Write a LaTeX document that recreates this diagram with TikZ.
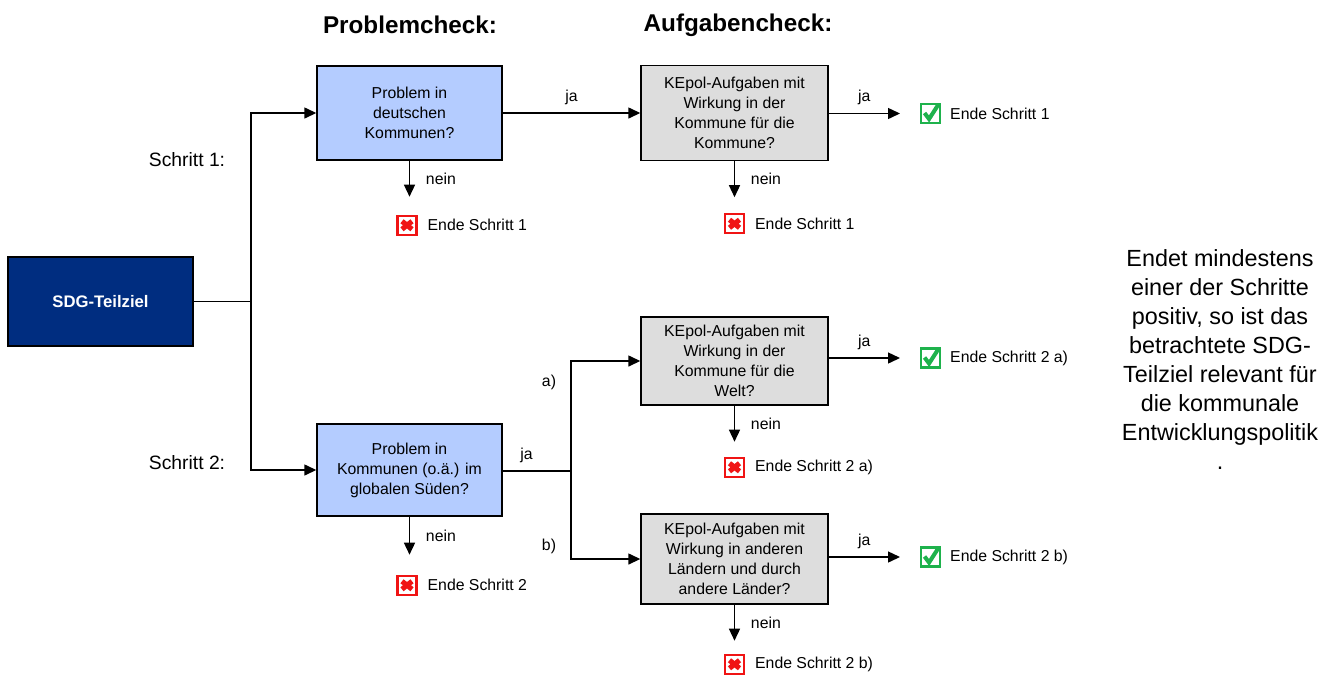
\documentclass[tikz,border=0pt]{standalone}
\usepackage{fontspec}
\setmainfont{Liberation Sans}
\usetikzlibrary{positioning,arrows.meta}
\definecolor{sdgblue}{RGB}{0,45,128}
\definecolor{probblue}{RGB}{180,204,255}
\definecolor{taskgray}{RGB}{221,221,221}
\definecolor{okgreen}{RGB}{30,178,76}
\definecolor{nored}{RGB}{240,20,20}
\tikzset{
  box/.style={draw, line width=0.8pt, minimum width=3.7cm, align=center, inner sep=2pt,
    font=\fontsize{9}{11.4}\selectfont},
  probbox/.style={box, fill=probblue},
  taskbox/.style={box, fill=taskgray, minimum width=3.74cm},
  sdgbox/.style={box, fill=sdgblue, text=white, minimum height=1.78cm,
    font=\fontsize{9.5}{11.4}\selectfont\bfseries},
  wire/.style={line width=0.8pt},
  flow/.style={wire, -{Triangle[length=2.4mm,width=2.2mm]}},
  lbl/.style={font=\fontsize{9}{11}\selectfont, inner sep=1pt},
  head/.style={font=\fontsize{13.8}{16}\selectfont\bfseries},
  steplbl/.style={font=\fontsize{11}{13}\selectfont},
  okmark/.style={draw=okgreen, line width=1.2pt, minimum size=0.38cm, inner sep=0pt,
    path picture={\draw[okgreen, line width=2.3pt, line join=miter]
      ([shift={(-0.12,0.01)}]path picture bounding box.center) --
      ([shift={(-0.03,-0.11)}]path picture bounding box.center) --
      ([shift={(0.17,0.2)}]path picture bounding box.center);}},
  nomark/.style={draw=nored, line width=1.2pt, minimum size=0.38cm, inner sep=0pt, fill=white,
    path picture={\draw[nored, line width=2.9pt]
      ([shift={(-0.1,0.08)}]path picture bounding box.center) --
      ([shift={(0.1,-0.08)}]path picture bounding box.center)
      ([shift={(-0.1,-0.08)}]path picture bounding box.center) --
      ([shift={(0.1,0.08)}]path picture bounding box.center);}},
}
\begin{document}
\begin{tikzpicture}
  \useasboundingbox (0,0) rectangle (26.76,-13.62);

  \node[head] (hprob) at (8.2,-0.5) {Problemcheck:};
  \node[head] (htask) at (14.76,-0.5) {Aufgabencheck:};
  \node[steplbl] (s1) at (3.74,-3.2) {Schritt 1:};
  \node[steplbl] (s2) at (3.74,-9.26) {Schritt 2:};

  \node[sdgbox] (sdg) at (2.01,-6.03) {SDG-Teilziel};
  \node[probbox, minimum height=1.88cm] (p1) at (8.19,-2.26) {Problem in\\deutschen\\Kommunen?};
  \node[taskbox, minimum height=1.9cm] (t1) at (14.69,-2.26) {KEpol-Aufgaben mit\\Wirkung in der\\Kommune für die\\Kommune?};
  \node[probbox, minimum height=1.84cm] (p2) at (8.19,-9.4) {Problem in\\Kommunen (o.ä.) im\\globalen Süden?};
  \node[taskbox, minimum height=1.76cm] (t2a) at (14.69,-7.22) {KEpol-Aufgaben mit\\Wirkung in der\\Kommune für die\\Welt?};
  \node[taskbox, minimum height=1.8cm] (t2b) at (14.69,-11.18) {KEpol-Aufgaben mit\\Wirkung in anderen\\Ländern und durch\\andere Länder?};

  \coordinate (fork) at (5.02,-6.03);
  \draw[wire] (sdg.east) -- (fork);
  \draw[flow] (fork) |- (p1.west);
  \draw[flow] (fork) |- (p2.west);

  \draw[flow] (p1.east) -- node[lbl, above=3.5pt] {ja} (t1.west);

  \coordinate (split) at (11.42,-9.42);
  \draw[wire] (p2.east |- split) -- node[lbl, above=3.5pt, pos=0.35] {ja} (split);
  \draw[flow] (split) |- (t2a.west);
  \draw[flow] (split) |- (t2b.west);
  \node[lbl] (ca) at (10.98,-7.64) {a)};
  \node[lbl] (cb) at (10.98,-10.92) {b)};

  % ja-Zweige
  \coordinate (e1) at (18.0,-2.27);
  \coordinate (e2a) at (18.0,-7.16);
  \coordinate (e2b) at (18.0,-11.14);
  \draw[flow] (t1.east |- e1) -- node[lbl, above=3.5pt] {ja} (e1);
  \draw[flow] (t2a.east |- e2a) -- node[lbl, above=3.5pt] {ja} (e2a);
  \draw[flow] (t2b.east |- e2b) -- node[lbl, above=3.5pt] {ja} (e2b);
  \node[okmark, right=0.4cm of e1] (ok1) {};
  \node[okmark, right=0.4cm of e2a] (ok2a) {};
  \node[okmark, right=0.4cm of e2b] (ok2b) {};
  \node[lbl, right=0.14cm of ok1] (tok1) {Ende Schritt 1};
  \node[lbl, right=0.14cm of ok2a] (tok2a) {Ende Schritt 2 a)};
  \node[lbl, right=0.14cm of ok2b] (tok2b) {Ende Schritt 2 b)};

  % nein-Zweige
  \coordinate[below=0.72cm of p1] (n1);
  \coordinate[below=0.72cm of t1] (n2);
  \coordinate[below=0.76cm of p2] (n3);
  \coordinate[below=0.72cm of t2a] (n4);
  \coordinate[below=0.72cm of t2b] (n5);
  \draw[flow] (p1.south) -- node[lbl, right=0.28cm] {nein} (n1);
  \draw[flow] (t1.south) -- node[lbl, right=0.28cm] {nein} (n2);
  \draw[flow] (p2.south) -- node[lbl, right=0.28cm] {nein} (n3);
  \draw[flow] (t2a.south) -- node[lbl, right=0.28cm] {nein} (n4);
  \draw[flow] (t2b.south) -- node[lbl, right=0.28cm] {nein} (n5);
  \node[nomark, below=0.36cm of n1, xshift=-0.05cm] (no1) {};
  \node[nomark, below=0.32cm of n2] (no2) {};
  \node[nomark, below=0.4cm of n3, xshift=-0.05cm] (no3) {};
  \node[nomark, below=0.3cm of n4] (no4) {};
  \node[nomark, below=0.26cm of n5] (no5) {};
  \node[lbl, right=0.16cm of no1] (tno1) {Ende Schritt 1};
  \node[lbl, right=0.16cm of no2] (tno2) {Ende Schritt 1};
  \node[lbl, right=0.16cm of no3] (tno3) {Ende Schritt 2};
  \node[lbl, right=0.16cm of no4] (tno4) {Ende Schritt 2 a)};
  \node[lbl, right=0.16cm of no5] (tno5) {Ende Schritt 2 b)};

  \node[align=center, font=\fontsize{13.3}{16.5}\selectfont] (note) at (24.4,-7.2)
    {Endet mindestens\\einer der Schritte\\positiv, so ist das\\betrachtete SDG-\\Teilziel relevant für\\die kommunale\\Entwicklungspolitik\\.};
\end{tikzpicture}
\end{document}
